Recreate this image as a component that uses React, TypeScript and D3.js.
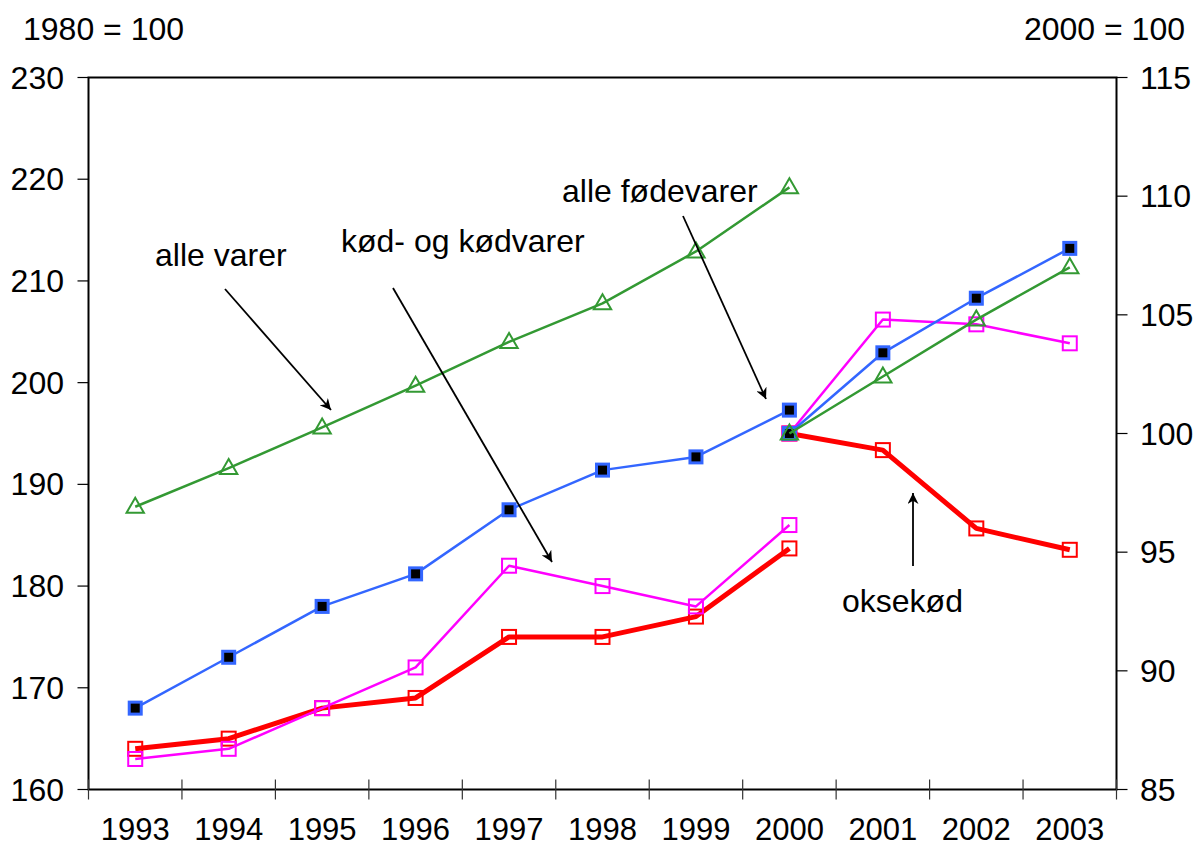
import React from "react";
import * as d3 from "d3";

const years = ["1993","1994","1995","1996","1997","1998","1999","2000","2001","2002","2003"];
const leftYears = ["1993","1994","1995","1996","1997","1998","1999","2000"];
const rightYears = ["2000","2001","2002","2003"];

const alleVarerL = [187.8, 191.6, 195.6, 199.7, 204.0, 207.8, 212.9, 219.2];
const foedevarerL = [168, 173, 178, 181.2, 187.5, 191.4, 192.7, 197.3];
const koedL = [163, 164, 168, 172, 182, 180, 178, 186];
const oksekoedL = [164, 165, 168, 169, 175, 175, 177, 183.7];

const alleVarerR = [100, 102.4, 104.8, 107.0];
const foedevarerR = [100, 103.4, 105.7, 107.8];
const koedR = [100, 104.8, 104.6, 103.8];
const oksekoedR = [100, 99.3, 96.0, 95.1];

const leftTicks = [160, 170, 180, 190, 200, 210, 220, 230];
const rightTicks = [85, 90, 95, 100, 105, 110, 115];

const W = 1197, H = 847;
const L = 88.5, R = 1116.5, T = 77.5, B = 789.5;
const FONT = "Liberation Sans, Arial, sans-serif";
const FS = 32;

const GREEN = "#339933";
const BLUE = "#3366ff";
const MAGENTA = "#ff00ff";
const RED = "#ff0000";

export default function App() {
  const x = d3.scaleBand<string>().domain(years).range([L, R]).padding(0);
  const cx = (yr: string) => (x(yr) as number) + x.bandwidth() / 2;
  const yL = d3.scaleLinear().domain([160, 230]).range([B, T]);
  const yR = d3.scaleLinear().domain([85, 115]).range([B, T]);

  const mk = (ys: string[], vals: number[], sc: d3.ScaleLinear<number, number>) =>
    ys.map((yr, i) => [cx(yr), sc(vals[i])] as [number, number]);
  const line = d3.line<[number, number]>();

  const tri = d3.symbol().type(d3.symbolTriangle).size(130);

  const series = [
    { key: "okseL", pts: mk(leftYears, oksekoedL, yL), color: RED, w: 5, marker: "osq" },
    { key: "okseR", pts: mk(rightYears, oksekoedR, yR), color: RED, w: 5, marker: "osq" },
    { key: "koedL", pts: mk(leftYears, koedL, yL), color: MAGENTA, w: 2.5, marker: "osq" },
    { key: "koedR", pts: mk(rightYears, koedR, yR), color: MAGENTA, w: 2.5, marker: "osq" },
    { key: "foedL", pts: mk(leftYears, foedevarerL, yL), color: BLUE, w: 2.5, marker: "fsq" },
    { key: "foedR", pts: mk(rightYears, foedevarerR, yR), color: BLUE, w: 2.5, marker: "fsq" },
    { key: "alleL", pts: mk(leftYears, alleVarerL, yL), color: GREEN, w: 2.5, marker: "tri" },
    { key: "alleR", pts: mk(rightYears, alleVarerR, yR), color: GREEN, w: 2.5, marker: "tri" },
  ];

  const arrows = [
    { x1: 225, y1: 289, x2: 331, y2: 410 },
    { x1: 393, y1: 288, x2: 552, y2: 562 },
    { x1: 683, y1: 216, x2: 766, y2: 399 },
    { x1: 913, y1: 566, x2: 913, y2: 493 },
  ];

  const annotations = [
    { text: "alle varer", x: 155, y: 266 },
    { text: "kød- og kødvarer", x: 341, y: 252 },
    { text: "alle fødevarer", x: 562, y: 202 },
    { text: "oksekød", x: 842, y: 612 },
  ];

  const tickXs = years.map((yr) => x(yr) as number).concat([R]);

  return (
    <svg width={W} height={H} style={{ position: "absolute", left: 0, top: 0, background: "#fff" }} fontFamily={FONT}>
      <defs>
        <marker id="ah" viewBox="0 0 10 10" refX="10" refY="5" markerWidth="11" markerHeight="11" markerUnits="userSpaceOnUse" orient="auto">
          <path d="M0,0 L10,5 L0,10 L3,5 Z" fill="#000" />
        </marker>
      </defs>
      <rect x={0} y={0} width={W} height={H} fill="#fff" />

      {/* frame */}
      <path d={`M${L},${T} H${R} V${B} H${L} Z`} fill="none" stroke="#000" strokeWidth={2} />

      {/* left ticks */}
      {leftTicks.map((t) => (
        <g key={"lt" + t}>
          <line x1={L - 11} x2={L} y1={yL(t)} y2={yL(t)} stroke="#000" strokeWidth={1.2} />
          <text x={64} y={yL(t) + 11} textAnchor="end" fontSize={FS}>{t}</text>
        </g>
      ))}
      {/* right ticks */}
      {rightTicks.map((t) => (
        <g key={"rt" + t}>
          <line x1={R} x2={R + 11} y1={yR(t)} y2={yR(t)} stroke="#000" strokeWidth={1.2} />
          <text x={1140} y={yR(t) + 11} textAnchor="start" fontSize={FS}>{t}</text>
        </g>
      ))}
      {/* x ticks */}
      {tickXs.map((tx, i) => (
        <line key={"xt" + i} x1={tx} x2={tx} y1={B - 10} y2={B + 10} stroke="#333" strokeWidth={1.2} />
      ))}
      {years.map((yr) => (
        <text key={"yl" + yr} x={cx(yr)} y={840} textAnchor="middle" fontSize={31}>{yr}</text>
      ))}

      <text x={23} y={40} fontSize={FS}>1980 = 100</text>
      <text x={1185} y={40} fontSize={FS} textAnchor="end">2000 = 100</text>

      {/* series */}
      {series.map((s) => (
        <g key={s.key}>
          <path d={line(s.pts) || ""} fill="none" stroke={s.color} strokeWidth={s.w} strokeLinejoin="round" />
          {s.pts.map(([px, py], i) =>
            s.marker === "tri" ? (
              <path key={i} d={tri() || ""} transform={`translate(${px},${py + 1})`} fill="none" stroke={s.color} strokeWidth={2} />
            ) : s.marker === "fsq" ? (
              <rect key={i} x={px - 6} y={py - 6} width={12} height={12} fill="#000" stroke={s.color} strokeWidth={3} />
            ) : (
              <rect key={i} x={px - 7} y={py - 7} width={14} height={14} fill="none" stroke={s.color} strokeWidth={2} />
            )
          )}
        </g>
      ))}

      {/* arrows */}
      {arrows.map((a, i) => (
        <line key={"ar" + i} x1={a.x1} y1={a.y1} x2={a.x2} y2={a.y2} stroke="#000" strokeWidth={1.8} markerEnd="url(#ah)" />
      ))}
      {annotations.map((a) => (
        <text key={a.text} x={a.x} y={a.y} fontSize={FS}>{a.text}</text>
      ))}
    </svg>
  );
}
